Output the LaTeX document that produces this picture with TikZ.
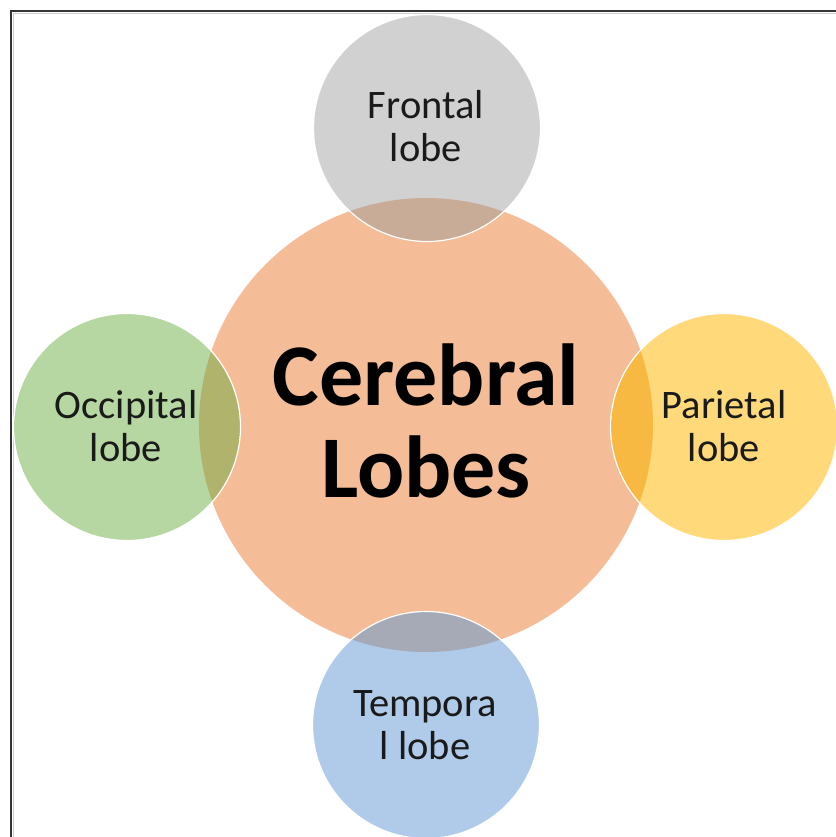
\documentclass[tikz,border=0pt]{standalone}
\usepackage{fontspec}
\setmainfont{Carlito}
\definecolor{corange}{HTML}{F4BD98}
\definecolor{cgray}{HTML}{D1D1D1}
\definecolor{ogray}{HTML}{C9AC98}
\definecolor{cgreen}{HTML}{B6D7A1}
\definecolor{ogreen}{HTML}{AFB36B}
\definecolor{cyellow}{HTML}{FFD97A}
\definecolor{oyellow}{HTML}{F7B942}
\definecolor{cblue}{HTML}{AFCBE9}
\definecolor{oblue}{HTML}{A6A9B6}
\definecolor{ctext}{HTML}{1A1A1A}
\definecolor{cframe}{HTML}{333333}
\begin{document}
\begin{tikzpicture}[x=1pt,y=-1pt,
  bigc/.style={circle, inner sep=0pt, minimum size=454pt, fill=corange},
  lobec/.style={circle, inner sep=0pt, minimum size=227pt},
  lobetext/.style={align=center, inner sep=0pt, text=ctext, font=\fontsize{40.5}{43}\selectfont},
  bigtext/.style={align=center, inner sep=0pt, text=black, font=\fontsize{88}{92}\selectfont\bfseries},
  rim/.style={draw=white, line width=1.2pt}]
\useasboundingbox (0,0) rectangle (835,837);
\fill[white] (0,0) rectangle (835,837);
\draw[cframe, line width=2.5pt] (11,838) -- (11,11) -- (836,11);
\draw[black!20, line width=1pt] (13.5,838) -- (13.5,13.5) -- (836,13.5);
% central circle
\node[bigc] (cen) at (426,425) {};
% lobe circles
\node[lobec, fill=cgray] (fro) at (427,128) {};
\node[lobec, fill=cgreen] (occ) at (127,427) {};
\node[lobec, fill=cyellow] (par) at (724,427) {};
\node[lobec, fill=cblue] (tem) at (426,725) {};
% overlaps
\begin{scope}
  \clip (fro.center) circle[radius=113.5pt];
  \fill[ogray] (cen.center) circle[radius=227pt];
\end{scope}
\begin{scope}
  \clip (occ.center) circle[radius=113.5pt];
  \fill[ogreen] (cen.center) circle[radius=227pt];
\end{scope}
\begin{scope}
  \clip (par.center) circle[radius=113.5pt];
  \fill[oyellow] (cen.center) circle[radius=227pt];
\end{scope}
\begin{scope}
  \clip (tem.center) circle[radius=113.5pt];
  \fill[oblue] (cen.center) circle[radius=227pt];
\end{scope}
% white rims
\draw[rim] (fro.center) circle[radius=113.5pt];
\draw[rim] (occ.center) circle[radius=113.5pt];
\draw[rim] (par.center) circle[radius=113.5pt];
\draw[rim] (tem.center) circle[radius=113.5pt];
% texts
\node[bigtext] (cent) at (426,421) {Cerebral\\Lobes};
\node[lobetext] (frot) at (426,126) {Frontal\\lobe};
\node[lobetext] (occt) at (126,426) {Occipital\\lobe};
\node[lobetext] (part) at (724,426) {Parietal\\lobe};
\node[lobetext] (temt) at (425,725) {Tempora\\l lobe};
\end{tikzpicture}
\end{document}
